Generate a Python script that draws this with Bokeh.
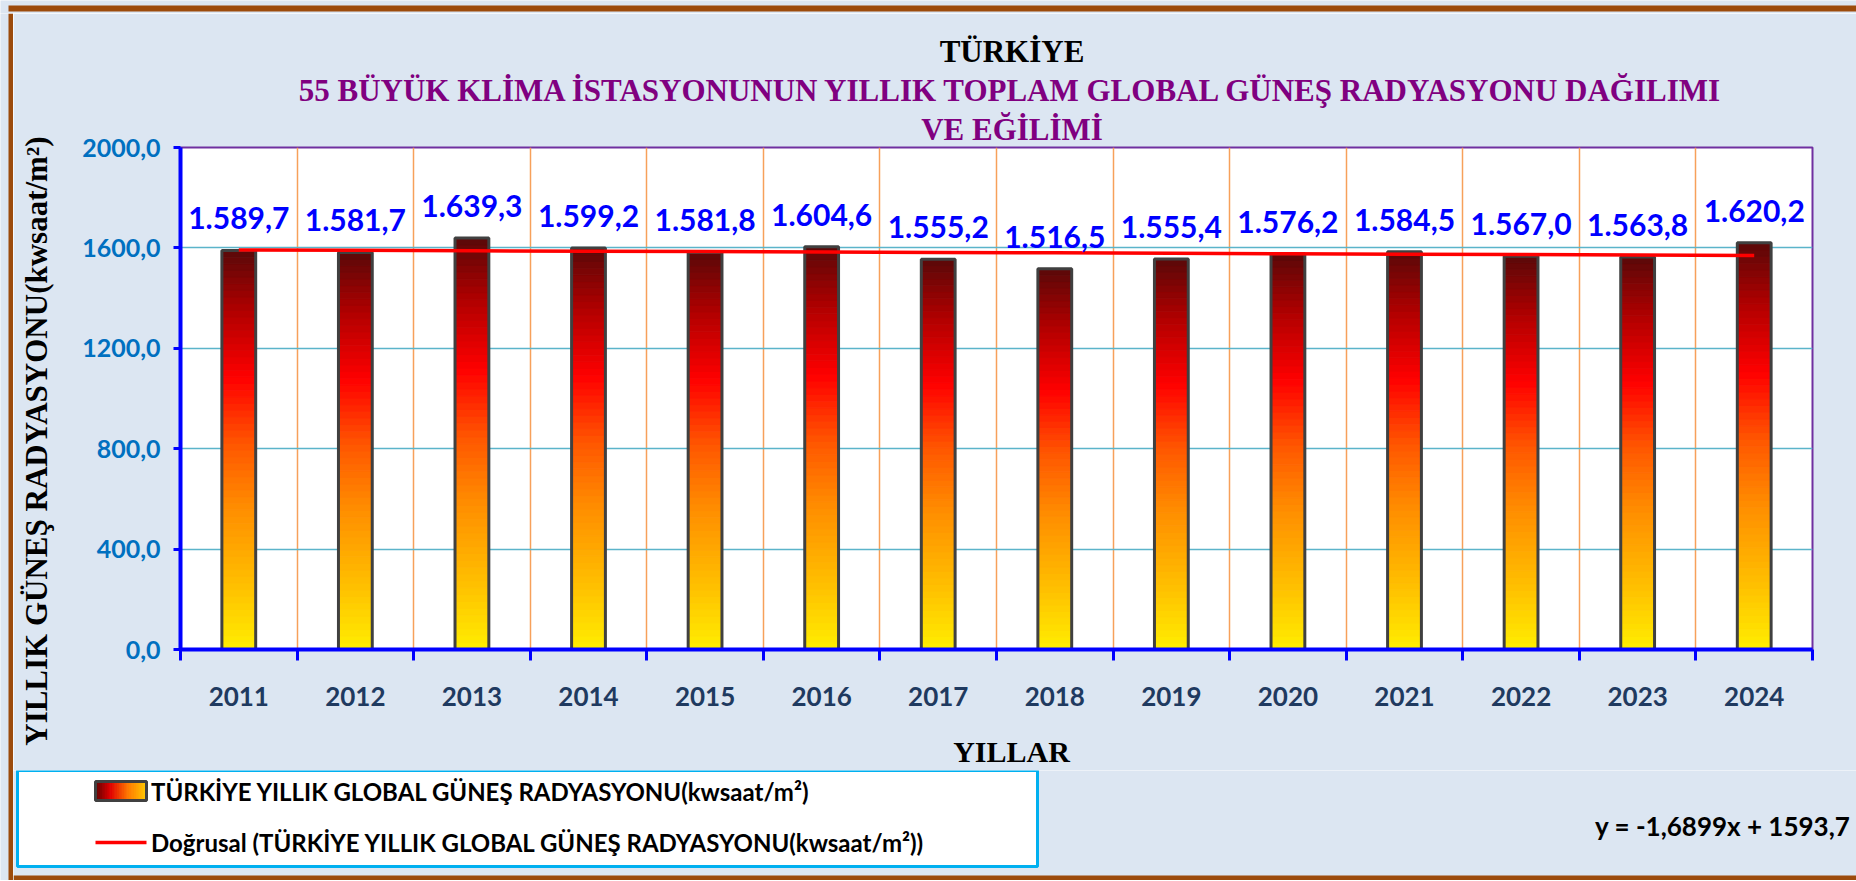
import numpy as np
from bokeh.plotting import figure
from bokeh.layouts import column, row
from bokeh.models import (ColumnDataSource, Range1d, FixedTicker, Label, LabelSet,
                          Legend, LegendItem, Title)
from bokeh.core.properties import value
from bokeh.embed import file_html
from bokeh.resources import INLINE

# ---------------- data ----------------
years = [2011, 2012, 2013, 2014, 2015, 2016, 2017, 2018, 2019, 2020, 2021, 2022, 2023, 2024]
values = [1589.7, 1581.7, 1639.3, 1599.2, 1581.8, 1604.6, 1555.2, 1516.5,
          1555.4, 1576.2, 1584.5, 1567.0, 1563.8, 1620.2]
y_ticks = [0, 400, 800, 1200, 1600, 2000]
y_tick_labels = ["0,0", "400,0", "800,0", "1200,0", "1600,0", "2000,0"]
trend_slope = -1.6899
trend_intercept = 1593.7

title_lines = ["TÜRKİYE",
               "55 BÜYÜK KLİMA İSTASYONUNUN YILLIK TOPLAM GLOBAL GÜNEŞ RADYASYONU DAĞILIMI",
               "VE EĞİLİMİ"]
y_title = "YILLIK GÜNEŞ RADYASYONU(kwsaat/m²)"
x_title = "YILLAR"
series_name = "TÜRKİYE YILLIK GLOBAL GÜNEŞ RADYASYONU(kwsaat/m²)"
trend_name = "Doğrusal (TÜRKİYE YILLIK GLOBAL GÜNEŞ RADYASYONU(kwsaat/m²))"


def tr_num(v, d):
    s = f"{v:,.{d}f}"
    return s.replace(",", "#").replace(".", ",").replace("#", ".")


value_labels = [tr_num(v, 1) for v in values]
eq_text = ("y = " + f"{trend_slope:.4f}".replace(".", ",") + "x + "
           + f"{trend_intercept:.1f}".replace(".", ","))

# ---------------- styles ----------------
BG = "#DCE6F2"
BROWN = "#9C4B0C"
SANS = "Lato"
SERIF = "Liberation Serif"
BAR_W = 0.29
NB = "\u00a0"

TOTAL_W, TOTAL_H = 1856, 880
EDGE = 13          # width of the outer frame strip (top / left)
CH_W, CH_H = TOTAL_W - EDGE, 757
BOT_H = TOTAL_H - EDGE - CH_H


def deco_fig(w, h, x0, x1, y_top, y_bot):
    f = figure(width=w, height=h, x_range=Range1d(x0, x1), y_range=Range1d(y_bot, y_top),
               output_backend="svg", toolbar_location=None, title=None,
               x_axis_type=None, y_axis_type=None, min_border=0, frame_align=False,
               background_fill_color=BG, border_fill_color=BG, outline_line_color=None)
    return f


def hex2rgb(h):
    return tuple(int(h[i:i + 2], 16) for i in (1, 3, 5))


def make_grad(stops):
    def grad(f):
        for (f0, c0), (f1, c1) in zip(stops[:-1], stops[1:]):
            if f0 <= f <= f1:
                t = (f - f0) / (f1 - f0)
                a, b = hex2rgb(c0), hex2rgb(c1)
                return "#%02x%02x%02x" % tuple(int(round(a[i] + (b[i] - a[i]) * t)) for i in range(3))
        return stops[-1][1]
    return grad


# ---------------- main chart ----------------
p = figure(width=CH_W, height=CH_H, output_backend="svg", toolbar_location=None,
           x_range=Range1d(2010.5, 2024.5), y_range=Range1d(0, 2000), frame_align=False,
           min_border_left=167, min_border_right=44, min_border_top=134, min_border_bottom=121,
           background_fill_color="white", border_fill_color=BG)
p.outline_line_color = "#7030A0"
p.outline_line_width = 2

# titles: p.title is outermost, added titles stack outward from the frame
p.title.text = NB * 4 + title_lines[0]
p.title.align = "center"
p.title.standoff = 1
p.title.text_font = SERIF
p.title.text_font_style = "bold"
p.title.text_font_size = "31px"
p.title.text_color = "black"
p.add_layout(Title(text=NB * 4 + title_lines[2], align="center", standoff=2,
                   text_font=SERIF, text_font_style="bold", text_font_size="31px",
                   text_color="#800080"), "above")
p.add_layout(Title(text=NB * 4 + title_lines[1], align="center", standoff=2,
                   text_font=SERIF, text_font_style="bold", text_font_size="31px",
                   text_color="#800080"), "above")

# grids
minor_x = [y - 0.5 for y in years] + [years[-1] + 0.5]
p.ygrid.ticker = FixedTicker(ticks=y_ticks)
p.ygrid.grid_line_color = "#5BB4CA"
p.ygrid.grid_line_width = 1.5
p.xgrid.ticker = FixedTicker(ticks=years, minor_ticks=minor_x)
p.xgrid.grid_line_color = None
p.xgrid.minor_grid_line_color = "#F7A05A"
p.xgrid.minor_grid_line_width = 1.5

# axes
xa = p.xaxis[0]
xa.ticker = FixedTicker(ticks=years, minor_ticks=minor_x)
xa.axis_line_color = "#0000FF"
xa.axis_line_width = 4
xa.major_tick_out = 0
xa.major_tick_in = 0
xa.major_tick_line_color = None
xa.minor_tick_out = 11
xa.minor_tick_in = 0
xa.minor_tick_line_color = "#0000FF"
xa.minor_tick_line_width = 3
xa.major_label_standoff = 26
xa.major_label_text_font = SANS
xa.major_label_text_font_style = "bold"
xa.major_label_text_font_size = "26px"
xa.major_label_text_color = "#1F3A60"
xa.axis_label = NB * 4 + x_title
xa.axis_label_standoff = 26
xa.axis_label_text_font = SERIF
xa.axis_label_text_font_style = "bold"
xa.axis_label_text_font_size = "30px"
xa.axis_label_text_color = "black"

ya = p.yaxis[0]
ya.ticker = FixedTicker(ticks=y_ticks)
ya.major_label_overrides = {t: l for t, l in zip(y_ticks, y_tick_labels)}
ya.axis_line_color = "#0000FF"
ya.axis_line_width = 4
ya.major_tick_out = 7
ya.major_tick_in = 0
ya.major_tick_line_color = "#0000FF"
ya.major_tick_line_width = 3
ya.minor_tick_line_color = None
ya.major_label_standoff = 13
ya.major_label_text_font = SANS
ya.major_label_text_font_style = "bold"
ya.major_label_text_font_size = "25px"
ya.major_label_text_color = "#0070C0"
ya.axis_label = y_title + NB * 11
ya.axis_label_standoff = 25
ya.axis_label_text_font = SERIF
ya.axis_label_text_font_style = "bold"
ya.axis_label_text_font_size = "31px"
ya.axis_label_text_color = "black"

# ---------------- gradient bars ----------------
bar_grad = make_grad([(0.00, "#FFEE00"), (0.16, "#FFC000"), (0.36, "#FF8C00"), (0.52, "#FF5500"),
                      (0.68, "#FF0000"), (0.85, "#B00000"), (1.00, "#5A0808")])

N = 60
sx, sb, st, sc = [], [], [], []
for yr, v in zip(years, values):
    for k in range(N):
        f0, f1 = k / N, (k + 1) / N
        sx.append(yr)
        sb.append(v * f0)
        st.append(v * f1)
        sc.append(bar_grad((f0 + f1) / 2))
strip_src = ColumnDataSource(dict(x=sx, bottom=sb, top=st, color=sc))
p.vbar(x="x", bottom="bottom", top="top", width=BAR_W, source=strip_src,
       fill_color="color", line_color="color", line_width=1)

bar_src = ColumnDataSource(dict(x=years, top=values, label=value_labels))
p.vbar(x="x", top="top", width=BAR_W, source=bar_src, fill_color=None,
       line_color="#404040", line_width=3)

# trend line (Excel linear trend: y = a*i + b, i = 1..n)
trend_y = [trend_slope * (i + 1) + trend_intercept for i in range(len(years))]
p.line(years, trend_y, line_color="#FF0000", line_width=3.5)

p.add_layout(LabelSet(x="x", y="top", text="label", source=bar_src, y_offset=32,
                      text_align="center", text_baseline="middle",
                      text_font=value(SANS), text_font_style="bold",
                      text_font_size="30px", text_color="#0000FF"))

# ---------------- outer frame strips ----------------
top_strip = deco_fig(TOTAL_W, EDGE, 0, TOTAL_W, 0, EDGE)
top_strip.quad(left=[8], right=[TOTAL_W], top=[5], bottom=[11], fill_color=BROWN, line_color=None)

left_strip = deco_fig(EDGE, TOTAL_H - EDGE, 0, EDGE, EDGE, TOTAL_H)
left_strip.quad(left=[8], right=[EDGE], top=[EDGE], bottom=[TOTAL_H], fill_color=BROWN, line_color=None)

# ---------------- bottom area: legend + equation ----------------
y0 = EDGE + CH_H
bf = deco_fig(CH_W, BOT_H, EDGE, TOTAL_W, y0, TOTAL_H)
bf.quad(left=[17], right=[1037], top=[y0], bottom=[866], fill_color="white",
        line_color="#00B0F0", line_width=3)
bf.quad(left=[EDGE], right=[TOTAL_W], top=[875], bottom=[TOTAL_H], fill_color=BROWN, line_color=None)

# legend key swatches (horizontal gradient box + red line)
sw_l, sw_r, sw_t, sw_b = 95, 146, 781, 800
sw_grad = make_grad([(0.0, "#5A0000"), (0.3, "#E00000"), (0.65, "#FF7A00"), (1.0, "#FFC800")])
M = 30
sw_left = [sw_l + (sw_r - sw_l) * k / M for k in range(M)]
sw_right = [sw_l + (sw_r - sw_l) * (k + 1) / M for k in range(M)]
sw_col = [sw_grad((k + 0.5) / M) for k in range(M)]
bf.quad(left=sw_left, right=sw_right, top=[sw_t] * M, bottom=[sw_b] * M,
        fill_color=sw_col, line_color=sw_col, line_width=1)
bf.quad(left=[sw_l], right=[sw_r], top=[sw_t], bottom=[sw_b], fill_color=None,
        line_color="#404040", line_width=3)
bf.line(x=[sw_l, sw_r], y=[842, 842], line_color="#FF0000", line_width=3.5)

leg_bar = bf.vbar(x=[], top=[], width=1, fill_color="#FF4A00", line_color="#404040", line_width=3)
leg_line = bf.line(x=[], y=[], line_color="#FF0000", line_width=3.5)
legend = Legend(items=[LegendItem(label=series_name, renderers=[leg_bar]),
                       LegendItem(label=trend_name, renderers=[leg_line])],
                location=(78, TOTAL_H - 857), orientation="vertical",
                glyph_width=58, glyph_height=24, label_standoff=2,
                spacing=22, padding=0, margin=0,
                border_line_color=None, background_fill_alpha=0,
                label_text_font=SANS, label_text_font_style="bold",
                label_text_font_size="24px", label_text_color="black")
bf.add_layout(legend)

bf.add_layout(Label(x=1850, y=825, text=eq_text, text_align="right", text_baseline="middle",
                    text_font=SANS, text_font_style="bold", text_font_size="26px",
                    text_color="black"))

layout = column(top_strip, row(left_strip, column(p, bf)))
open("out.html", "w").write(file_html(layout, INLINE))
